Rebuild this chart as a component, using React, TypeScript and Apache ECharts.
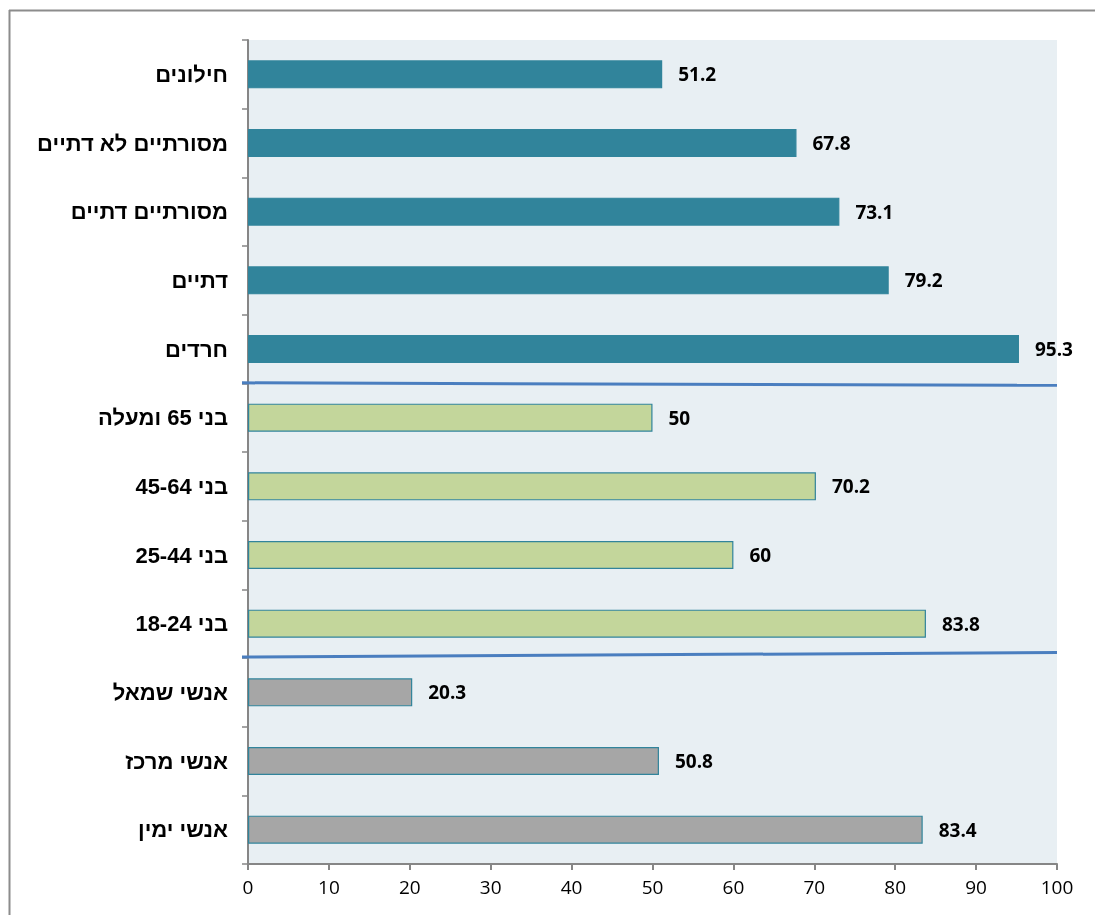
import React, { useEffect, useRef } from "react";
import * as echarts from "echarts";

const categories = [
  "חילונים",
  "מסורתיים לא דתיים",
  "מסורתיים דתיים",
  "דתיים",
  "חרדים",
  "בני 65 ומעלה",
  "בני 45-64",
  "בני 25-44",
  "בני 18-24",
  "אנשי שמאל",
  "אנשי מרכז",
  "אנשי ימין",
];
const values = [51.2, 67.8, 73.1, 79.2, 95.3, 50, 70.2, 60, 83.8, 20.3, 50.8, 83.4];
// group index per category: 0 = religiosity, 1 = age, 2 = politics
const groups = [0, 0, 0, 0, 0, 1, 1, 1, 1, 2, 2, 2];
const groupColors = ["#31849B", "#C3D69B", "#A6A6A6"];
const groupBorders = ["#31849B", "#31849B", "#31849B"];
// separators after these category indices (boundary between groups)
const separatorsAfter = [4, 8];
const xTicks = { min: 0, max: 100, interval: 10 };

export default function App() {
  const ref = useRef<HTMLDivElement>(null);
  useEffect(() => {
    if (!ref.current) return;
    const chart = echarts.init(ref.current, undefined, { renderer: "svg" });
    const gridLeft = 248;
    const gridTop = 40;
    const gridWidth = 809;
    const gridHeight = 824;
    chart.setOption({
      animation: false,
      grid: {
        left: gridLeft,
        top: gridTop,
        width: gridWidth,
        height: gridHeight,
        show: true,
        backgroundColor: "#E8EFF3",
        borderWidth: 0,
      },
      xAxis: {
        type: "value",
        min: xTicks.min,
        max: xTicks.max,
        interval: xTicks.interval,
        splitLine: { show: false },
        axisLine: { show: true, lineStyle: { color: "#868686", width: 2 } },
        axisTick: { show: true, length: 6, lineStyle: { color: "#868686", width: 2 } },
        axisLabel: {
          color: "#000",
          fontSize: 19,
          fontFamily: "Open Sans, Noto Sans, sans-serif",
          margin: 13,
        },
      },
      yAxis: {
        type: "category",
        data: categories,
        inverse: true,
        axisLine: { show: true, lineStyle: { color: "#868686", width: 2 } },
        axisTick: { show: true, length: 6, lineStyle: { color: "#868686", width: 1.5 } },
        axisLabel: {
          color: "#000",
          fontSize: 22,
          fontWeight: "bold",
          fontFamily: "Liberation Sans, Arial, sans-serif",
          margin: 20,
        },
      },
      series: [
        {
          type: "bar",
          barWidth: 28,
          data: values.map((v, i) => ({
            value: v,
            itemStyle: {
              color: groupColors[groups[i]],
              borderColor: groupBorders[groups[i]],
              borderWidth: 1.2,
            },
          })),
          label: {
            show: true,
            position: "right",
            distance: 16,
            color: "#000",
            fontSize: 19,
            fontWeight: "bold",
            fontFamily: "Open Sans, Noto Sans, sans-serif",
          },
        },
      ],
    });

    const xRight = chart.convertToPixel({ xAxisIndex: 0 }, xTicks.max) as number;
    const lines = separatorsAfter.map((idx, k) => {
      const y0 = chart.convertToPixel({ yAxisIndex: 0 }, idx) as number;
      const y1 = chart.convertToPixel({ yAxisIndex: 0 }, idx + 1) as number;
      const y = (y0 + y1) / 2;
      const yl = k === 0 ? y - 0.5 : y - 1;
      const yr = k === 0 ? y + 2 : y - 5.5;
      return {
        type: "line",
        shape: { x1: gridLeft - 6, y1: yl, x2: xRight, y2: yr },
        style: { stroke: "#4A7EBF", lineWidth: 3 },
        z: 10,
      };
    });
    chart.setOption({
      graphic: [
        {
          type: "line",
          shape: { x1: 9.5, y1: 10, x2: 9.5, y2: 915 },
          style: { stroke: "#8C8C8C", lineWidth: 2 },
          z: 10,
        },
        {
          type: "line",
          shape: { x1: 9, y1: 10.5, x2: 1095, y2: 10.5 },
          style: { stroke: "#8C8C8C", lineWidth: 2 },
          z: 10,
        },
        ...lines,
      ],
    });

    return () => chart.dispose();
  }, []);
  return (
    <div
      ref={ref}
      style={{ position: "fixed", left: 0, top: 0, width: 1095, height: 915 }}
    />
  );
}
